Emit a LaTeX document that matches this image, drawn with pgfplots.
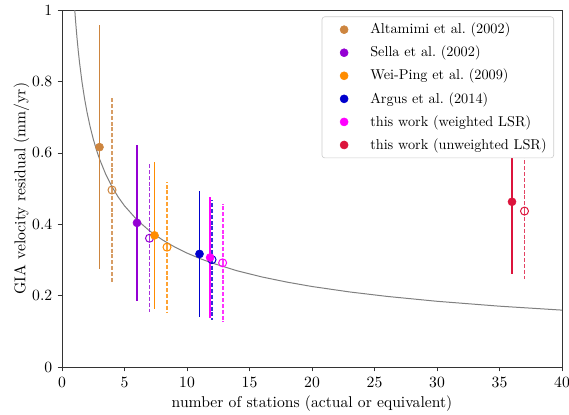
\documentclass[11pt,border=0pt]{standalone}
\usepackage{pgfplots}
\pgfplotsset{compat=1.18}
\definecolor{cAlt}{HTML}{CD853F}
\definecolor{cSel}{HTML}{9400D3}
\definecolor{cWei}{HTML}{FF8C00}
\definecolor{cArg}{HTML}{0000CD}
\definecolor{cWgt}{HTML}{FF00FF}
\definecolor{cUnw}{HTML}{DC143C}
\begin{document}
\begin{tikzpicture}
\begin{axis}[
  scale only axis,
  width=350pt, height=250pt,
  xmin=0, xmax=40, ymin=0, ymax=1,
  xtick={0,5,...,40},
  ytick={0,0.2,0.4,0.6,0.8,1},
  yticklabels={0,0.2,0.4,0.6,0.8,1},
  tick pos=left,
  tick align=outside,
  major tick length=3pt,
  axis line style={black!80},
  every tick/.style={black!80},
  xlabel={number of stations (actual or equivalent)},
  ylabel={GIA velocity residual (mm/yr)},
  xlabel style={yshift=1.5pt},
  ylabel style={yshift=-5.5pt},
  clip=true,
  legend cell align=left,
  legend style={at={(rel axis cs:0.984,0.982)}, anchor=north east,
    draw=black!20, fill=white, rounded corners=2pt, font=\fontsize{10}{12}\selectfont,
    row sep=3.0pt, inner xsep=3pt, inner ysep=2.5pt},
  legend image code/.code={\path[draw=none,fill=none] (-5pt,-1pt) rectangle (23.8pt,1pt); \draw[#1] plot coordinates {(7.5pt,0pt)};},
  solidbar/.style={error bars/y dir=both, error bars/y explicit, error bars/error mark=none,
    error bars/error bar style={line width=1.3pt}},
  dashbar/.style={error bars/y dir=both, error bars/y explicit, error bars/error mark=none,
    error bars/error bar style={line width=1.3pt, opacity=0.8, dash pattern=on 2.8pt off 1.3pt}},
]
% fitted curve
\addplot[gray, line width=0.7pt, forget plot] coordinates {
(0.9,1.0646) (0.95,1.0362) (1.0,1.01) (1.1,0.9630) (1.2,0.9220) (1.3,0.8858)
(1.4,0.8536) (1.6,0.7985) (1.8,0.7528) (2.0,0.7142) (2.25,0.6733) (2.5,0.6388)
(2.75,0.6091) (3,0.5831) (3.5,0.5399) (4,0.5050) (4.5,0.4761) (5,0.4517)
(6,0.4123) (7,0.3817) (8,0.3571) (9,0.3367) (10,0.3194) (11,0.3045)
(12,0.2916) (14,0.2699) (16,0.2525) (18,0.2381) (20,0.2258) (23,0.2106)
(26,0.1981) (30,0.1844) (35,0.1707) (40,0.1597)};
% open markers with dashed bars (equivalent)
\addplot[cAlt, forget plot, only marks, mark=o, mark size=2.8pt, mark options={solid, draw=cAlt, fill=white, line width=0.7pt}, dashbar]
  coordinates {(4,0.496) +- (0,0.262)};
\addplot[cSel, forget plot, only marks, mark=o, mark size=2.8pt, mark options={solid, draw=cSel, fill=white, line width=0.7pt}, dashbar]
  coordinates {(7,0.361) +- (0,0.207)};
\addplot[cWei, forget plot, only marks, mark=o, mark size=2.8pt, mark options={solid, draw=cWei, fill=white, line width=0.7pt}, dashbar]
  coordinates {(8.4,0.336) +- (0,0.183)};
\addplot[cArg, forget plot, only marks, mark=o, mark size=2.8pt, mark options={solid, draw=cArg, fill=white, line width=0.7pt}, dashbar]
  coordinates {(12,0.301) +- (0,0.168)};
\addplot[cWgt, forget plot, only marks, mark=o, mark size=2.8pt, mark options={solid, draw=cWgt, fill=white, line width=0.7pt}, dashbar]
  coordinates {(12.85,0.292) +- (0,0.165)};
\addplot[cUnw, forget plot, only marks, mark=o, mark size=2.8pt, mark options={solid, draw=cUnw, fill=white, line width=0.7pt}, dashbar]
  coordinates {(37,0.437) +- (0,0.191)};
% filled markers with solid bars (actual)
\addplot[cAlt, only marks, mark=*, mark size=2.8pt, mark options={draw=cAlt, fill=cAlt}, solidbar]
  coordinates {(3,0.616) +- (0,0.342)};
\addlegendentry{Altamimi et al.\ (2002)}
\addplot[cSel, only marks, mark=*, mark size=2.8pt, mark options={draw=cSel, fill=cSel}, solidbar]
  coordinates {(6,0.404) +- (0,0.218)};
\addlegendentry{Sella et al.\ (2002)}
\addplot[cWei, only marks, mark=*, mark size=2.8pt, mark options={draw=cWei, fill=cWei}, solidbar]
  coordinates {(7.4,0.369) +- (0,0.205)};
\addlegendentry{Wei-Ping et al.\ (2009)}
\addplot[cArg, only marks, mark=*, mark size=2.8pt, mark options={draw=cArg, fill=cArg}, solidbar]
  coordinates {(11,0.317) +- (0,0.176)};
\addlegendentry{Argus et al.\ (2014)}
\addplot[cWgt, only marks, mark=*, mark size=2.8pt, mark options={draw=cWgt, fill=cWgt}, solidbar]
  coordinates {(11.85,0.307) +- (0,0.170)};
\addlegendentry{this work (weighted LSR)}
\addplot[cUnw, only marks, mark=*, mark size=2.8pt, mark options={draw=cUnw, fill=cUnw}, solidbar]
  coordinates {(36,0.463) +- (0,0.203)};
\addlegendentry{this work (unweighted LSR)}
\end{axis}
\pgfresetboundingbox
\path[use as bounding box] ([xshift=-43.4pt,yshift=-32.9pt]current axis.south west) rectangle ([xshift=4.9pt,yshift=7pt]current axis.north east);
\end{tikzpicture}
\end{document}
